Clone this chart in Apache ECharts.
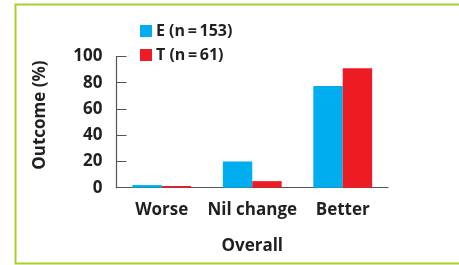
<!DOCTYPE html>
<html>
<head>
<meta charset="utf-8">
<script src="https://cdn.jsdelivr.net/npm/echarts@6/dist/echarts.min.js"></script>
<style>
  html, body { margin: 0; padding: 0; background: #fff; }
  #chart { width: 459px; height: 265px; }
</style>
</head>
<body>
<div id="chart"></div>
<script>
// 数据
const categories = ['Worse', 'Nil change', 'Better']
const seriesNames = ['E (n\u2009=\u2009153)', 'T (n\u2009=\u200961)']
const valuesE = [2, 20, 77.5]
const valuesT = [1.3, 5, 91]
const yTicks = [0, 20, 40, 60, 80, 100]

const textColor = '#231f20'
const fontFamily = '"Open Sans", "DejaVu Sans Condensed", sans-serif'

const chart = echarts.init(document.getElementById('chart'))

chart.setOption({
  animation: false,
  textStyle: { fontFamily: fontFamily, color: textColor },
  graphic: [
    {
      type: 'polyline',
      shape: { points: [[459, 4.5], [15.5, 4.5], [15.5, 263.5], [459, 263.5]] },
      style: { stroke: '#a6cf2f', lineWidth: 2, fill: null }
    }
  ],
  legend: {
    orient: 'vertical',
    left: 140,
    top: 22,
    padding: 0,
    itemWidth: 12,
    itemHeight: 12,
    itemGap: 6,
    icon: 'rect',
    textStyle: { fontFamily: fontFamily, fontSize: 16, fontWeight: 'bold', color: textColor, lineHeight: 18, padding: [0, 0, 0, -1] },
    data: seriesNames
  },
  grid: {
    left: 116.5,
    right: 71,
    top: 56.5,
    bottom: 77.3
  },
  xAxis: {
    type: 'category',
    data: categories,
    name: 'Overall',
    nameLocation: 'middle',
    nameGap: 50,
    nameTextStyle: { fontFamily: fontFamily, fontSize: 17, fontWeight: 'bold', color: textColor },
    axisLine: { lineStyle: { color: '#555', width: 1.2 } },
    axisTick: { show: false },
    axisLabel: { interval: 0, fontFamily: fontFamily, fontSize: 17, fontWeight: 'bold', color: textColor, margin: 14 }
  },
  yAxis: {
    type: 'value',
    min: yTicks[0],
    max: yTicks[yTicks.length - 1],
    interval: 20,
    name: 'Outcome (%)',
    nameLocation: 'middle',
    nameGap: 68,
    nameTextStyle: { fontFamily: fontFamily, fontSize: 17, fontWeight: 'bold', color: textColor, padding: [0, 0, 0, 14] },
    splitLine: { show: false },
    axisLine: { show: true, lineStyle: { color: '#555', width: 1.2 } },
    axisTick: { show: true, inside: true, length: 10, lineStyle: { color: '#555' } },
    axisLabel: { fontFamily: fontFamily, fontSize: 17, fontWeight: 'bold', color: textColor, margin: 14 }
  },
  series: [
    {
      name: seriesNames[0],
      type: 'bar',
      data: valuesE,
      itemStyle: { color: '#00aeef' },
      barGap: '0%',
      barCategoryGap: '35%'
    },
    {
      name: seriesNames[1],
      type: 'bar',
      data: valuesT,
      itemStyle: { color: '#ed1c24' },
      barGap: '0%',
      barCategoryGap: '35%'
    }
  ]
})
</script>
</body>
</html>
